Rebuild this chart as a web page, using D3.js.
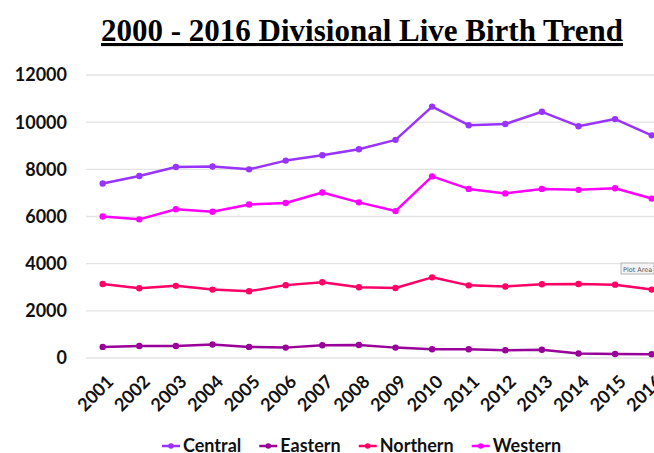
<!DOCTYPE html>
<html lang="en">
<head>
<meta charset="utf-8">
<title>2000 - 2016 Divisional Live Birth Trend</title>
<script src="https://cdn.jsdelivr.net/npm/d3@7"></script>
<style>
  body { margin: 0; background: #fff; }
  svg { display: block; }
  .tick-lbl { font-family: Lato, "Open Sans", sans-serif; font-weight: bold; font-size: 18px; fill: #111; }
</style>
</head>
<body>
<script>
// data
var years = ["2001","2002","2003","2004","2005","2006","2007","2008","2009","2010","2011","2012","2013","2014","2015","2016"];
var central  = [7400, 7720, 8100, 8120, 8000, 8370, 8600, 8850, 9250, 10660, 9870, 9920, 10440, 9830, 10130, 9440];
var eastern  = [470, 510, 510, 570, 470, 440, 540, 550, 440, 370, 370, 330, 350, 190, 170, 160];
var northern = [3140, 2960, 3060, 2900, 2830, 3090, 3210, 3000, 2970, 3420, 3080, 3030, 3130, 3140, 3110, 2900];
var western  = [6000, 5880, 6310, 6200, 6510, 6570, 7020, 6600, 6230, 7700, 7170, 6980, 7170, 7130, 7200, 6760];
var yTicks = [0, 2000, 4000, 6000, 8000, 10000, 12000];
var seriesNames = ["Central", "Eastern", "Northern", "Western"];
var seriesColors = ["#9933ff", "#990099", "#ff0066", "#ff00ff"];

var series = [central, eastern, northern, western].map(function(v, i) {
  return { name: seriesNames[i], color: seriesColors[i], values: v };
});

var w = 654, h = 453;

var svg = d3.select("body").append("svg")
  .attr("width", w)
  .attr("height", h);

// plot area runs off the right edge, like the screenshot
var x = d3.scaleBand().domain(years).range([84.4, 670]).padding(0);
var y = d3.scaleLinear().domain([0, 12000]).range([358, 75]);
var cx = function(yr) { return x(yr) + x.bandwidth() / 2; };

// title
svg.append("text")
  .attr("x", 362)
  .attr("y", 41)
  .attr("text-anchor", "middle")
  .style("font-family", "'Liberation Serif', 'Times New Roman', serif")
  .style("font-weight", "bold")
  .style("font-size", "31px")
  .style("text-decoration", "underline")
  .style("fill", "#000")
  .text("2000 - 2016 Divisional Live Birth Trend");

// gridlines
svg.append("g").selectAll("line")
  .data(yTicks)
  .enter()
  .append("line")
  .attr("x1", 86)
  .attr("x2", w)
  .attr("y1", function(d) { return y(d); })
  .attr("y2", function(d) { return y(d); })
  .style("stroke", "#e3e3e3")
  .style("stroke-width", 1.3);

// y labels
svg.append("g").selectAll("text")
  .data(yTicks)
  .enter()
  .append("text")
  .attr("class", "tick-lbl")
  .attr("x", 67)
  .attr("y", function(d) { return y(d); })
  .attr("dy", "0.36em")
  .attr("text-anchor", "end")
  .text(function(d) { return d; });

// x labels, rotated
svg.append("g").selectAll("text")
  .data(years)
  .enter()
  .append("text")
  .attr("class", "tick-lbl")
  .attr("text-anchor", "end")
  .attr("transform", function(d) { return "translate(" + (cx(d) + 3) + ",374) rotate(-45)"; })
  .attr("dy", "0.7em")
  .text(function(d) { return d; });

// lines + markers
var line = d3.line()
  .x(function(d, i) { return cx(years[i]); })
  .y(function(d) { return y(d); });

var g = svg.append("g").selectAll("g")
  .data(series)
  .enter()
  .append("g");

g.append("path")
  .attr("d", function(s) { return line(s.values); })
  .style("fill", "none")
  .style("stroke", function(s) { return s.color; })
  .style("stroke-width", 2.5)
  .style("stroke-linejoin", "round");

g.selectAll("circle")
  .data(function(s) { return s.values.map(function(v, i) { return { v: v, i: i, c: s.color }; }); })
  .enter()
  .append("circle")
  .attr("cx", function(d) { return cx(years[d.i]); })
  .attr("cy", function(d) { return y(d.v); })
  .attr("r", 3.2)
  .style("fill", function(d) { return d.c; });

// legend
var leg = svg.append("g");
var lx = 162;
series.forEach(function(s) {
  leg.append("line")
    .attr("x1", lx).attr("x2", lx + 18)
    .attr("y1", 446).attr("y2", 446)
    .style("stroke", s.color).style("stroke-width", 2.5);
  leg.append("circle")
    .attr("cx", lx + 9).attr("cy", 446).attr("r", 2.8)
    .style("fill", s.color);
  var t = leg.append("text")
    .attr("class", "tick-lbl")
    .attr("x", lx + 21)
    .attr("y", 446)
    .attr("dy", "0.36em")
    .text(s.name);
  lx = lx + 21 + t.node().getComputedTextLength() + 18;
});

// the "Plot Area" hover tip caught in the screenshot
var tip = svg.append("g").attr("transform", "translate(621,263)");
tip.append("rect")
  .attr("width", 33).attr("height", 11)
  .style("fill", "#f4f4f4").style("stroke", "#999").style("stroke-width", 0.7);
tip.append("text")
  .attr("x", 2).attr("y", 8.5)
  .style("font-family", "'DejaVu Sans', sans-serif")
  .style("font-size", "6.5px")
  .style("fill", "#555")
  .text("Plot Area");
</script>
</body>
</html>
